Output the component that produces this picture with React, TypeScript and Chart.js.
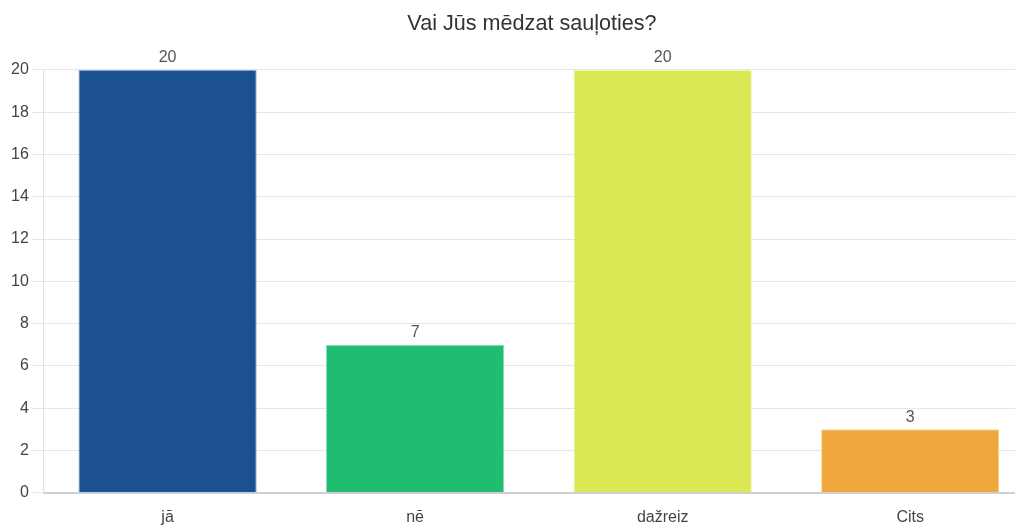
import React, { useEffect, useRef } from "react";
import { Chart, registerables } from "chart.js";

Chart.register(...registerables);

const categories = ["jā", "nē", "dažreiz", "Cits"];
const answers = [20, 7, 20, 3];
const barColors = ["rgba(22,78,143,0.98)", "rgba(28,187,108,0.98)", "rgba(216,232,80,0.98)", "rgba(240,166,58,0.98)"];
const barBorders = ["rgba(120,160,210,0.9)", "rgba(120,220,170,0.9)", "rgba(235,245,160,0.9)", "rgba(250,205,140,0.9)"];
const chartTitle = "Vai Jūs mēdzat sauļoties?";

const FONT = "'Liberation Sans', Arial, sans-serif";
const TITLE_SIZE = 21.6;

// The built-in title reserves the space; this plugin paints the text a little
// right of the box centre so it sits over the middle of the plot.
const titleText = {
  id: "titleText",
  afterDraw(chart: any) {
    const tb = chart.titleBlock;
    if (!tb) return;
    const ctx = chart.ctx;
    ctx.save();
    ctx.font = `${TITLE_SIZE}px ${FONT}`;
    ctx.fillStyle = "#333";
    ctx.textAlign = "center";
    ctx.textBaseline = "middle";
    const cx = (tb.left + tb.right) / 2 + 11;
    const cy = tb.top + 3 + (TITLE_SIZE * 1.2) / 2;
    ctx.fillText(chartTitle, cx, cy);
    ctx.restore();
  },
};

const valueLabels = {
  id: "valueLabels",
  afterDatasetsDraw(chart: any) {
    const ctx = chart.ctx;
    const meta = chart.getDatasetMeta(0);
    ctx.save();
    ctx.font = `16px ${FONT}`;
    ctx.fillStyle = "#555";
    ctx.textAlign = "center";
    ctx.textBaseline = "bottom";
    meta.data.forEach((bar: any, i: number) => {
      ctx.fillText(String(answers[i]), bar.x, bar.y - 4);
    });
    ctx.restore();
  },
};

export default function App() {
  const ref = useRef<HTMLCanvasElement | null>(null);
  useEffect(() => {
    if (!ref.current) return;
    const chart = new Chart(ref.current, {
      type: "bar",
      data: {
        labels: categories,
        datasets: [
          {
            data: answers,
            backgroundColor: barColors,
            borderColor: barBorders,
            borderWidth: 1,
          },
        ],
      },
      options: {
        responsive: false,
        animation: false,
        layout: { padding: { left: 0, right: 14, top: 0, bottom: 4 } },
        plugins: {
          legend: { display: false },
          tooltip: { enabled: false },
          title: {
            display: true,
            text: chartTitle,
            color: "rgba(0,0,0,0)",
            font: { family: FONT, size: TITLE_SIZE, weight: "normal" },
            padding: { top: 3, bottom: 33 },
          },
        },
        scales: {
          x: {
            grid: { display: false },
            border: { color: "#d0d0d0", width: 2 },
            ticks: { color: "#444", font: { family: FONT, size: 16 }, padding: 7 },
          },
          y: {
            min: 0,
            max: 20,
            ticks: { stepSize: 2, color: "#444", font: { family: FONT, size: 16 }, padding: 3 },
            grid: { color: "#e6e6e6", tickLength: 12 },
            border: { color: "#e0e0e0" },
          },
        },
      },
      plugins: [valueLabels, titleText],
    });
    return () => chart.destroy();
  }, []);
  return (
    <div style={{ width: 1015, height: 517, overflow: "hidden" }}>
      <canvas ref={ref} width={1040} height={530} />
    </div>
  );
}
